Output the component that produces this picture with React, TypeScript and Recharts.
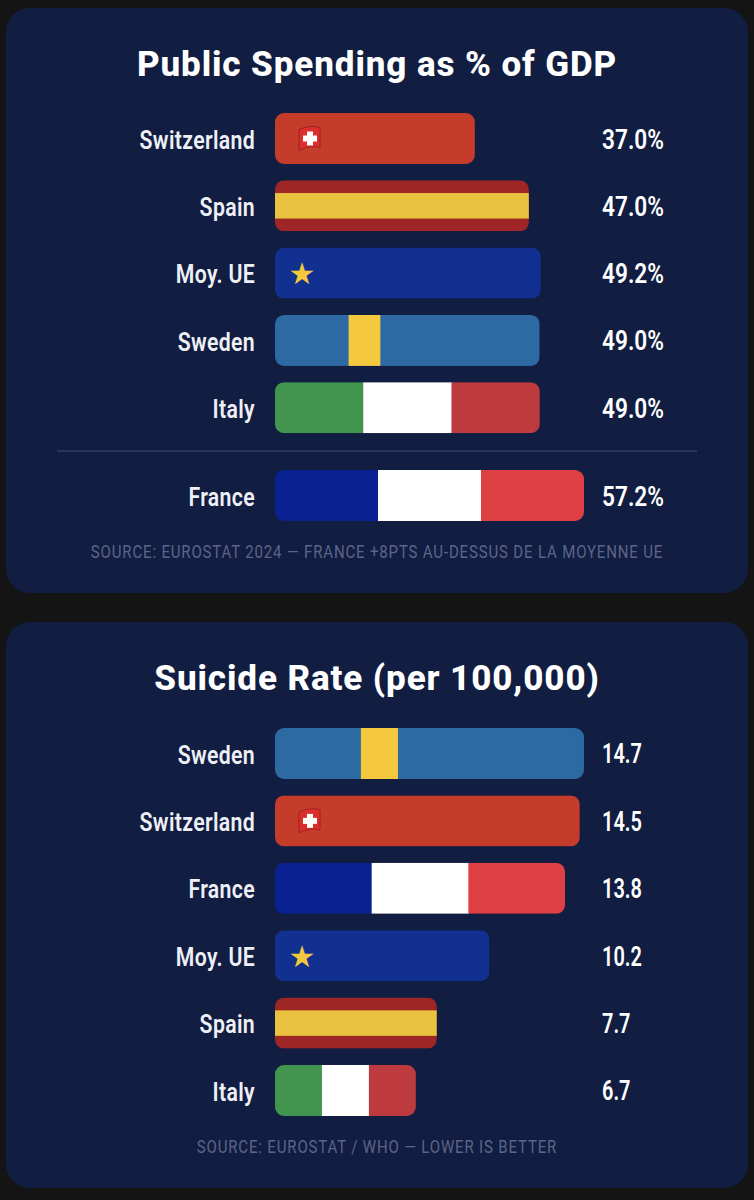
import { BarChart, Bar, XAxis, YAxis, LabelList } from "recharts";

const spendingCountries = ["Switzerland", "Spain", "Moy. UE", "Sweden", "Italy"];
const spendingValues = [37.0, 47.0, 49.2, 49.0, 49.0];
const franceCountries = ["France"];
const franceValues = [57.2];
const suicideCountries = ["Sweden", "Switzerland", "France", "Moy. UE", "Spain", "Italy"];
const suicideValues = [14.7, 14.5, 13.8, 10.2, 7.7, 6.7];

const SPENDING_MAX = 57.2;
const SUICIDE_MAX = 14.7;
const FONT = "Roboto, sans-serif";
const CARD = "#111d41";

function toRows(names: string[], values: number[]) {
  return names.map((name, i) => ({ name, value: values[i] }));
}

function FlagBar(props: any) {
  const { x, y, width: w, height: h, payload, index, prefix } = props;
  const id = `${prefix}-${index}`;
  const name = payload.name;
  let body = null;
  if (name === "Switzerland") {
    const fx = x + 24;
    const fy = y + h / 2 - 12;
    body = (
      <g>
        <rect x={x} y={y} width={w} height={h} fill="#c63c2b" />
        <path
          d={`M${fx} ${fy + 3} Q${fx + 11} ${fy - 2} ${fx + 21} ${fy + 1} L${fx + 21} ${fy + 21} Q${fx + 10} ${fy + 18} ${fx} ${fy + 24} Z`}
          fill="#dc2f2c"
          stroke="#9c2320"
          strokeWidth={1}
        />
        <rect x={fx + 8} y={fy + 5} width={6} height={14} fill="#fff" />
        <rect x={fx + 4} y={fy + 9} width={14} height={6} fill="#fff" />
      </g>
    );
  } else if (name === "Spain") {
    body = (
      <g>
        <rect x={x} y={y} width={w} height={h} fill="#9e2626" />
        <rect x={x} y={y + h * 0.25} width={w} height={h * 0.5} fill="#e9c33f" />
      </g>
    );
  } else if (name === "Moy. UE") {
    body = (
      <g>
        <rect x={x} y={y} width={w} height={h} fill="#12308f" />
        <text x={x + 27} y={y + h / 2 + 11} textAnchor="middle" fontSize={30} fontFamily="DejaVu Sans" fill="#f4c93d">
          ★
        </text>
      </g>
    );
  } else if (name === "Sweden") {
    body = (
      <g>
        <rect x={x} y={y} width={w} height={h} fill="#2d6aa3" />
        <rect x={x + w * 0.278} y={y} width={w * 0.12} height={h} fill="#f4c93d" />
      </g>
    );
  } else {
    const colors = name === "Italy" ? ["#42954f", "#ffffff", "#bd3a3f"] : ["#0a2291", "#ffffff", "#de4043"];
    body = (
      <g>
        {colors.map((c, i) => (
          <rect key={c} x={x + (w / 3) * i} y={y} width={w / 3 + 0.5} height={h} fill={c} />
        ))}
      </g>
    );
  }
  return (
    <g>
      <clipPath id={id}>
        <rect x={x} y={y} width={w} height={h} rx={9} ry={9} />
      </clipPath>
      <g clipPath={`url(#${id})`}>{body}</g>
    </g>
  );
}

function CountryTick({ x, y, payload }: any) {
  return (
    <text
      transform={`translate(${x} ${y + 10}) scale(0.85 1)`}
      textAnchor="end"
      fontFamily={FONT}
      fontWeight={600}
      fontSize={25}
      letterSpacing={0.4}
      fill="#eef0f6"
    >
      {payload.value}
    </text>
  );
}

function ValueLabel({ y, height, value, suffix }: any) {
  // the plain numbers sit tighter than the ones with a percent sign
  const squeeze = suffix ? 0.84 : 0.74;
  return (
    <text
      transform={`translate(602 ${y + height / 2 + 10}) scale(${squeeze} 1)`}
      fontFamily={FONT}
      fontWeight={600}
      fontSize={27}
      fill="#ffffff"
    >
      {value.toFixed(1) + suffix}
    </text>
  );
}

function Rows({ names, values, max, top, pitch, suffix, prefix }: any) {
  return (
    <div style={{ position: "absolute", left: 0, top }}>
      <BarChart
        width={754}
        height={pitch * names.length}
        layout="vertical"
        data={toRows(names, values)}
        margin={{ top: 0, right: 170, bottom: 0, left: 0 }}
      >
        <XAxis type="number" domain={[0, max]} hide />
        <YAxis
          type="category"
          dataKey="name"
          width={275}
          axisLine={false}
          tickLine={false}
          tickMargin={0}
          tick={(p: any) => <CountryTick {...p} x={255} />}
        />
        <Bar dataKey="value" barSize={51} isAnimationActive={false} shape={(p: any) => <FlagBar {...p} prefix={prefix} />}>
          <LabelList dataKey="value" content={(p: any) => <ValueLabel {...p} suffix={suffix} />} />
        </Bar>
      </BarChart>
    </div>
  );
}

function Card({ top, height }: any) {
  return (
    <div style={{ position: "absolute", left: 6, top, width: 742, height, background: CARD, borderRadius: 24 }} />
  );
}

function Heading({ top, children }: any) {
  return (
    <div
      style={{
        position: "absolute",
        left: 0,
        width: 754,
        top,
        textAlign: "center",
        color: "#fff",
        fontFamily: FONT,
        fontWeight: 800,
        fontSize: 35,
        letterSpacing: 0.9,
        lineHeight: "40px",
      }}
    >
      {children}
    </div>
  );
}

function Source({ top, children }: any) {
  return (
    <div
      style={{
        position: "absolute",
        left: 0,
        width: 754,
        top,
        textAlign: "center",
        color: "#5c6589",
        fontFamily: FONT,
        fontSize: 18,
        letterSpacing: 1,
        lineHeight: "22px",
        transform: "scaleX(0.834)",
      }}
    >
      {children}
    </div>
  );
}

export default function App() {
  return (
    <div style={{ position: "absolute", left: 0, top: 0, width: 754, height: 1200, background: "#141414", overflow: "hidden" }}>
      <Card top={8} height={585} />
      <Card top={622} height={566} />

      <Heading top={45}>Public Spending as % of GDP</Heading>
      <Rows names={spendingCountries} values={spendingValues} max={SPENDING_MAX} top={105} pitch={67.3} suffix="%" prefix="spend" />
      <div style={{ position: "absolute", left: 57, top: 450, width: 640, height: 2, background: "#29355a" }} />
      <Rows names={franceCountries} values={franceValues} max={SPENDING_MAX} top={462} pitch={67} suffix="%" prefix="fr" />
      <Source top={541}>SOURCE: EUROSTAT 2024 — FRANCE +8PTS AU-DESSUS DE LA MOYENNE UE</Source>

      <Heading top={659}>Suicide Rate (per 100,000)</Heading>
      <Rows names={suicideCountries} values={suicideValues} max={SUICIDE_MAX} top={720} pitch={67.4} suffix="" prefix="suicide" />
      <Source top={1136}>SOURCE: EUROSTAT / WHO — LOWER IS BETTER</Source>
    </div>
  );
}
